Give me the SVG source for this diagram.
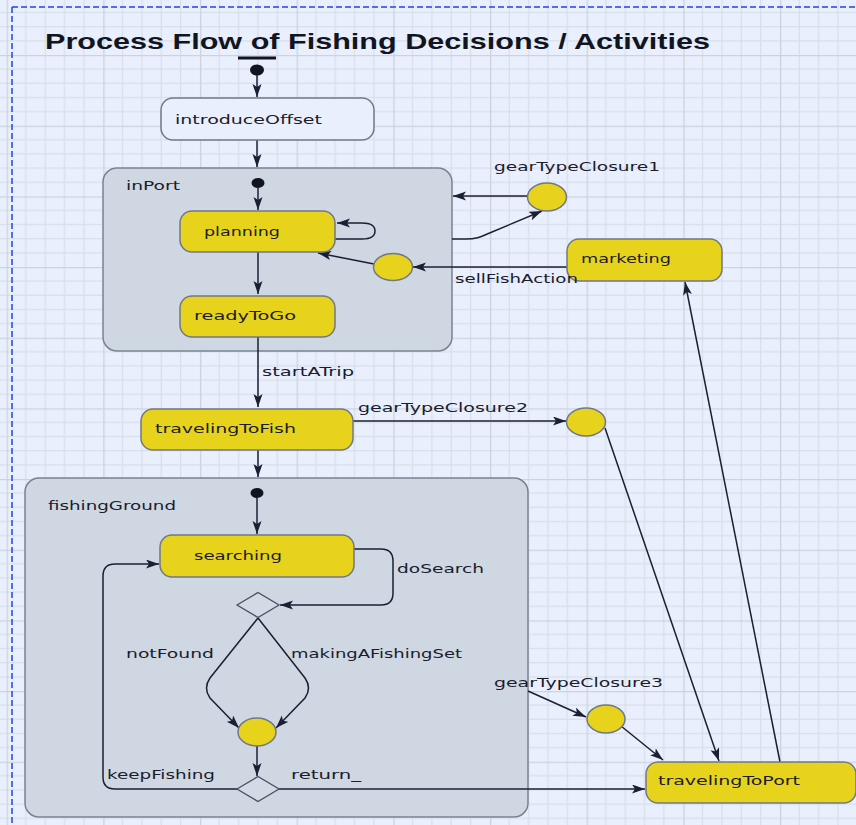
<svg xmlns="http://www.w3.org/2000/svg" width="856" height="825" viewBox="0 0 856 825">
<defs>
<pattern id="grid" patternUnits="userSpaceOnUse" x="6.6" y="-15.67" width="96.667" height="70.667">
<rect width="96.667" height="70.667" fill="#e9effc"/>
<path d="M19.33,0V70.667M38.67,0V70.667M58,0V70.667M77.33,0V70.667M0,14.13H96.667M0,28.27H96.667M0,42.4H96.667M0,56.53H96.667" stroke="#d9dfe9" stroke-width="1.2" fill="none"/>
<path d="M0.6,0V70.667M0,0.6H96.667" stroke="#cdd3de" stroke-width="1.5" fill="none"/>
</pattern>
<marker id="arr" markerUnits="userSpaceOnUse" markerWidth="14" markerHeight="10" refX="13" refY="4.5" orient="auto">
<path d="M0,0 L13,4.5 L0,9 L3,4.5 Z" fill="#1b1f33"/>
</marker>
<style>
.st{fill:#e8d31c;stroke:#707888;stroke-width:1.5}
.cont{fill:#cfd7e3;stroke:#7a8291;stroke-width:1.5}
.init{fill:#e9effc;stroke:#707888;stroke-width:1.5}
.dia{fill:#d2dae6;stroke:#4a4f5e;stroke-width:1.3}
.t{font-family:"DejaVu Sans",Verdana,sans-serif;font-size:13px;fill:#1b1c2c}
.title{font-family:"Liberation Sans",Arial,sans-serif;font-size:22px;font-weight:bold;fill:#111522}
.c{fill:none;stroke:#1b1f33;stroke-width:1.5}
.ca{fill:none;stroke:#1b1f33;stroke-width:1.5;marker-end:url(#arr)}
.dot{fill:#111522}
</style>
</defs>
<rect width="856" height="825" fill="url(#grid)"/>
<path d="M12,7H856M12,7V825" stroke="#2244e6" stroke-width="1.5" stroke-dasharray="6,3" fill="none"/>
<text class="title" x="45" y="48.5" textLength="665" lengthAdjust="spacingAndGlyphs">Process Flow of Fishing Decisions / Activities</text>

<g id="inPort">
<rect class="cont" x="103" y="168" width="349" height="183" rx="14"/>
<text class="t" x="126" y="190" textLength="54" lengthAdjust="spacingAndGlyphs">inPort</text>
</g>
<g id="fishingGround">
<rect class="cont" x="25" y="478" width="503" height="339" rx="14"/>
<text class="t" x="48" y="510" textLength="128" lengthAdjust="spacingAndGlyphs">fishingGround</text>
</g>

<g id="connectors">
<path class="ca" d="M257,75V97"/>
<path class="ca" d="M257,140V167"/>
<path class="ca" d="M258,188V210"/>
<path class="ca" d="M335,239H362Q375,239 375,231Q375,223 362,223H337"/>
<path class="ca" d="M258,252V294"/>
<path class="ca" d="M374,264L318,253"/>
<path class="ca" d="M567,267H413"/>
<path class="ca" d="M528,196H453"/>
<path class="ca" d="M452,239H466C478,239 482,236 492,232L542,211"/>
<path class="ca" d="M258,337V407"/>
<path class="ca" d="M353,421H566"/>
<path class="ca" d="M605,428L719,761"/>
<path class="ca" d="M780,762L685,282"/>
<path class="ca" d="M258,450V477"/>
<path class="ca" d="M257,498V534"/>
<path class="ca" d="M354,549H381Q393,549 393,561V593Q393,605 381,605H280"/>
<path class="ca" d="M258,618L210,678Q203,688 210,698L239,728"/>
<path class="ca" d="M258,618L305,678Q312,688 305,698L276,728"/>
<path class="ca" d="M257,746V776"/>
<path class="ca" d="M237,789H115Q103,789 103,777V576Q103,564 115,564H159"/>
<path class="ca" d="M279,789H645"/>
<path class="ca" d="M528,691L586,717"/>
<path class="ca" d="M621,726L663,760"/>
</g>

<g id="start">
<path d="M238,58H276" stroke="#111522" stroke-width="3"/>
<ellipse class="dot" cx="257" cy="70" rx="7" ry="5.5"/>
</g>
<g id="introduceOffset">
<rect class="init" x="161" y="98" width="213" height="42" rx="12"/>
<text class="t" x="175" y="124" textLength="147" lengthAdjust="spacingAndGlyphs">introduceOffset</text>
</g>
<g id="inPortInit"><ellipse class="dot" cx="258" cy="183" rx="6.5" ry="5"/></g>
<g id="planning">
<rect class="st" x="180" y="211" width="155" height="41" rx="12"/>
<text class="t" x="204" y="236" textLength="76" lengthAdjust="spacingAndGlyphs">planning</text>
</g>
<g id="readyToGo">
<rect class="st" x="180" y="296" width="155" height="41" rx="12"/>
<text class="t" x="194" y="320" textLength="102" lengthAdjust="spacingAndGlyphs">readyToGo</text>
</g>
<g id="sellJunction"><ellipse class="st" cx="393" cy="267" rx="19.5" ry="13.5"/></g>
<g id="gearJunction1"><ellipse class="st" cx="547" cy="197" rx="19.5" ry="14"/></g>
<g id="marketing">
<rect class="st" x="567" y="239" width="155" height="42" rx="12"/>
<text class="t" x="581" y="263" textLength="90" lengthAdjust="spacingAndGlyphs">marketing</text>
</g>
<g id="travelingToFish">
<rect class="st" x="141" y="409" width="212" height="41" rx="12"/>
<text class="t" x="155" y="432.5" textLength="141" lengthAdjust="spacingAndGlyphs">travelingToFish</text>
</g>
<g id="gearJunction2"><ellipse class="st" cx="586" cy="422" rx="19.5" ry="14"/></g>
<g id="fishingInit"><ellipse class="dot" cx="257" cy="493" rx="6.5" ry="5"/></g>
<g id="searching">
<rect class="st" x="160" y="535" width="194" height="42" rx="12"/>
<text class="t" x="194" y="559.5" textLength="88" lengthAdjust="spacingAndGlyphs">searching</text>
</g>
<g id="decision1"><path class="dia" d="M237,605L258,592.5L279,605L258,617.5Z"/></g>
<g id="setJunction"><ellipse class="st" cx="257" cy="732" rx="19" ry="14"/></g>
<g id="decision2"><path class="dia" d="M237,789L258,776.5L279,789L258,801.5Z"/></g>
<g id="gearJunction3"><ellipse class="st" cx="606" cy="719" rx="19" ry="14"/></g>
<g id="travelingToPort">
<rect class="st" x="646" y="762" width="210" height="41" rx="12"/>
<text class="t" x="658" y="785" textLength="142" lengthAdjust="spacingAndGlyphs">travelingToPort</text>
</g>

<g id="labels">
<text class="t" x="494" y="171" textLength="166" lengthAdjust="spacingAndGlyphs">gearTypeClosure1</text>
<text class="t" x="455" y="283" textLength="123" lengthAdjust="spacingAndGlyphs">sellFishAction</text>
<text class="t" x="262" y="375.5" textLength="92" lengthAdjust="spacingAndGlyphs">startATrip</text>
<text class="t" x="358" y="411.5" textLength="170" lengthAdjust="spacingAndGlyphs">gearTypeClosure2</text>
<text class="t" x="397" y="573" textLength="87" lengthAdjust="spacingAndGlyphs">doSearch</text>
<text class="t" x="126" y="658" textLength="88" lengthAdjust="spacingAndGlyphs">notFound</text>
<text class="t" x="291" y="658" textLength="171" lengthAdjust="spacingAndGlyphs">makingAFishingSet</text>
<text class="t" x="107" y="778.5" textLength="108" lengthAdjust="spacingAndGlyphs">keepFishing</text>
<text class="t" x="291" y="778.5" textLength="70" lengthAdjust="spacingAndGlyphs">return_</text>
<text class="t" x="494" y="686.5" textLength="169" lengthAdjust="spacingAndGlyphs">gearTypeClosure3</text>
</g>
</svg>
